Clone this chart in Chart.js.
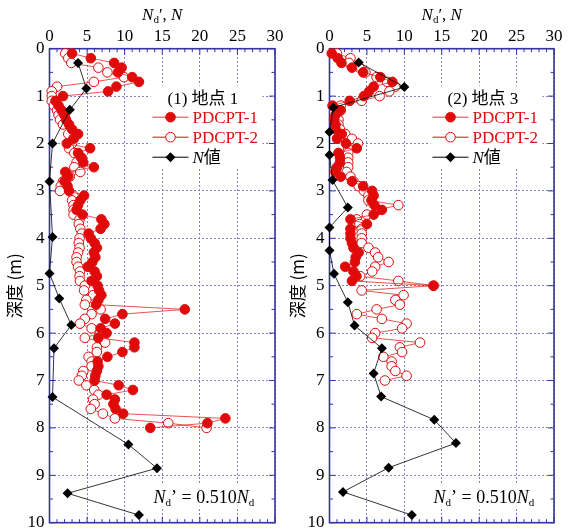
<!DOCTYPE html>
<html>
<head>
<meta charset="utf-8">
<script src="https://cdn.jsdelivr.net/npm/chart.js@4.4.1/dist/chart.umd.min.js"></script>
<style>
  html, body { margin: 0; padding: 0; background: #fff; overflow: hidden; }
  #wrap { position: relative; width: 568px; height: 529px; }
  canvas { position: absolute; top: 0; }
</style>
</head>
<body>
<div id="wrap">
  <canvas id="site1" width="290" height="545" style="left:0"></canvas>
  <canvas id="site3" width="288" height="545" style="left:280px"></canvas>
</div>
<script>
// depth grid of the PDCPT soundings (m)
const pdDepth = [
  0.1, 0.2, 0.3, 0.4, 0.5, 0.6, 0.7, 0.8, 0.9, 1.0,
  1.1, 1.2, 1.3, 1.4, 1.5, 1.6, 1.7, 1.8, 1.9, 2.0,
  2.1, 2.2, 2.3, 2.4, 2.5, 2.6, 2.7, 2.8, 2.9, 3.0,
  3.1, 3.2, 3.3, 3.4, 3.5, 3.6, 3.7, 3.8, 3.9, 4.0,
  4.1, 4.2, 4.3, 4.4, 4.5, 4.6, 4.7, 4.8, 4.9, 5.0,
  5.1, 5.2, 5.3, 5.4, 5.5, 5.6, 5.7, 5.8, 5.9, 6.0,
  6.1, 6.2, 6.3, 6.4, 6.5, 6.6, 6.7, 6.8, 6.9, 7.0,
  7.1, 7.2, 7.3, 7.4, 7.5, 7.6, 7.7, 7.8, 7.9, 8.0
]

// (1) site 1
const site1Pd1 = [
  3.0, 5.5, 8.6, 9.6, 9.1, 11.0, 11.9, 8.9, 7.8, 1.8,
  0.8, 1.2, 1.6, 2.0, 2.2, 2.6, 3.0, 3.8, 3.2, 2.3,
  5.4, 3.8, 4.2, 4.5, 5.9, 2.1, 2.5, 2.0, 2.4, 2.6,
  4.6, 4.1, 3.8, 3.6, 4.4, 6.9, 7.3, 6.8, 5.2, 5.5,
  6.0, 6.3, 5.9, 6.1, 5.7, 5.1, 6.0, 6.3, 5.6, 6.4,
  6.6, 6.9, 6.5, 6.2, 18.0, 9.7, 7.4, 8.7, 6.8, 7.6,
  6.5, 11.3, 11.3, 9.7, 7.7, 6.4, 6.5, 6.3, 6.1, 6.0,
  9.2, 11.1, 7.6, 8.7, 8.5, 8.8, 9.8, 23.4, 21.0, 13.4
]
const site1Pd2 = [
  2.1, 2.5, 2.9, 6.5, 7.7, 9.9, 5.9, 1.0, 0.3, 0.3,
  0.3, 0.6, 1.0, 1.2, 1.4, 1.8, 2.9, 2.5, 3.2, 3.0,
  2.6, 3.3, 4.3, 3.6, 3.3, 4.1, 2.7, 1.8, 1.5, 1.4,
  3.2, 3.0, 3.2, 3.2, 3.2, 4.0, 3.9, 4.1, 4.3, 4.0,
  3.9, 4.0, 3.8, 3.6, 3.6, 3.8, 4.05, 4.0, 4.05, 4.7,
  4.6, 5.8, 4.9, 4.7, 6.8, 5.6, 4.7, 4.05, 5.6, 6.7,
  4.7, 7.4, 6.3, 6.3, 5.2, 5.6, 5.6, 4.5, 4.3, 3.9,
  4.9, 5.95, 6.5, 5.8, 6.0, 5.5, 7.1, 8.7, 15.8, 20.9
]
const site1NDepth = [0.3, 0.84, 1.29, 2.0, 2.8, 3.97, 4.74, 5.27, 5.83, 6.32, 7.35, 8.35, 8.85, 9.38, 9.84]
const site1N = [3.8, 4.9, 2.7, 0.4, 0, 0.4, 0, 1.3, 2.9, 0.6, 0.4, 10.5, 14.3, 2.4, 11.9]

// (2) site 3
const site3Pd1 = [
  0.3, 1.1, 1.6, 3.0, 4.5, 6.8, 8.4, 5.9, 5.3, 4.6,
  2.7, 0.4, 1.5, 0.8, 0.6, 0.8, 0.8, 1.65, 1.0, 2.2,
  3.65, 1.2, 1.4, 1.4, 1.0, 0.8, 1.5, 3.0, 4.5, 5.7,
  5.9, 5.6, 6.0, 7.0, 5.9, 2.8, 5.0, 2.8, 2.8, 2.8,
  3.0, 3.2, 3.9, 3.5, 3.4, 2.1, 3.2, 3.6, 3.0, 13.9
]
const site3Pd2 = [
  1.0, 2.8, 2.6, 4.0, 4.8, 6.3, 7.7, 8.8, 8.0, 6.7,
  4.3, 1.5, 1.0, 1.0, 1.2, 1.2, 1.4, 2.1, 3.0, 3.8,
  2.5, 2.5, 2.5, 2.5, 2.5, 2.3, 2.8, 3.2, 3.9, 4.6,
  5.2, 5.2, 9.2, 6.5, 5.0, 3.65, 4.0, 4.3, 4.3, 4.3,
  4.3, 5.2, 6.1, 6.5, 7.9, 6.1, 5.7, 4.1, 9.2, 13.9,
  4.3, 9.9, 8.8, 9.4, 6.3, 3.65, 7.0, 10.3, 9.7, 6.1,
  5.7, 12.1, 9.4, 9.7, 7.2, 8.3, 8.3, 8.8, 10.3, 7.4
]
const site3NDepth = [0.29, 0.81, 1.24, 1.76, 2.24, 2.77, 3.35, 3.77, 4.26, 4.75, 5.35, 5.84, 6.32, 6.85, 7.34, 7.83, 8.32, 8.84, 9.35, 9.84]
const site3N = [3.9, 10, 0.5, 0, 0, 0.4, 2.45, 0, 0, 0.6, 2.45, 3.35, 7, 5.9, 6.9, 14, 16.9, 7.9, 1.8, 11]

const xTicks = [0, 5, 10, 15, 20, 25, 30]
const yTicks = [0, 1, 2, 3, 4, 5, 6, 7, 8, 9, 10]
const seriesLabels = ['PDCPT-1', 'PDCPT-2', 'N値']

const RED = '#e00a0a'
const FRAME = '#3434a6'
const GRID = '#8080c4'
const SERIF = '"Liberation Serif", "Noto Sans CJK JP", serif'

function pairs(xs, ys) {
  return xs.map((v, i) => ({ x: v, y: ys[i] }))
}

function drawRich(ctx, parts, x, y, size) {
  for (const p of parts) {
    const s = p.sub ? Math.round(size * 0.62) : size
    ctx.font = (p.italic ? 'italic ' : '') + s + 'px ' + SERIF
    ctx.fillText(p.t, x, p.sub ? y + size * 0.2 : y)
    x += ctx.measureText(p.t).width
  }
  return x
}

function richWidth(ctx, parts, size) {
  let w = 0
  for (const p of parts) {
    const s = p.sub ? Math.round(size * 0.62) : size
    ctx.font = (p.italic ? 'italic ' : '') + s + 'px ' + SERIF
    w += ctx.measureText(p.t).width
  }
  return w
}

function dot(ctx, x, y, filled) {
  ctx.beginPath()
  ctx.arc(x, y, 4.8, 0, Math.PI * 2)
  ctx.fillStyle = filled ? RED : '#fff'
  ctx.fill()
  ctx.lineWidth = 1
  ctx.strokeStyle = RED
  ctx.stroke()
}

function diamond(ctx, x, y) {
  ctx.beginPath()
  ctx.moveTo(x, y - 5)
  ctx.lineTo(x + 5, y)
  ctx.lineTo(x, y + 5)
  ctx.lineTo(x - 5, y)
  ctx.closePath()
  ctx.fillStyle = '#000'
  ctx.fill()
}

// frame with inward ticks, drawn under the data
const framePlugin = {
  id: 'frame',
  beforeDatasetsDraw(chart) {
    const { ctx, chartArea: a, scales: { x, y } } = chart
    ctx.save()
    ctx.strokeStyle = FRAME
    ctx.lineWidth = 1
    ctx.beginPath()
    for (let v = 0; v <= 30; v++) {
      const px = x.getPixelForValue(v)
      const len = v % 5 === 0 ? 6 : 3.5
      ctx.moveTo(px, a.top); ctx.lineTo(px, a.top + len)
      ctx.moveTo(px, a.bottom); ctx.lineTo(px, a.bottom - len)
    }
    for (let v = 0; v <= 10; v += 0.5) {
      const py = y.getPixelForValue(v)
      const len = v % 1 === 0 ? 6 : 3.5
      ctx.moveTo(a.left, py); ctx.lineTo(a.left + len, py)
      ctx.moveTo(a.right, py); ctx.lineTo(a.right - len, py)
    }
    ctx.stroke()
    ctx.lineWidth = 1.6
    ctx.strokeRect(a.left, a.top, a.right - a.left, a.bottom - a.top)
    ctx.restore()
  }
}

// legend, axis title and formula note
const decorPlugin = {
  id: 'decor',
  afterDraw(chart, args, opts) {
    const { ctx, chartArea: a } = chart
    const L = a.left, T = a.top
    ctx.save()
    ctx.textBaseline = 'alphabetic'
    ctx.fillStyle = '#000'

    // x axis title on top
    const title = [{ t: 'N', italic: true }, { t: 'd', sub: true }, { t: '\u2032, ' }, { t: 'N', italic: true }]
    const tw = richWidth(ctx, title, 17)
    ctx.fillStyle = '#000'
    drawRich(ctx, title, (a.left + a.right) / 2 - tw / 2, 20, 17)

    // legend
    ctx.fillStyle = '#fff'
    ctx.fillRect(L + 101, T + 37, 112, 82)
    ctx.fillStyle = '#000'
    ctx.font = '17px ' + SERIF
    ctx.fillText(opts.title, L + 118, T + 55)
    const rows = [T + 68.5, T + 88.5, T + 108.5]
    ctx.lineWidth = 0.8
    for (let i = 0; i < 3; i++) {
      ctx.strokeStyle = i < 2 ? RED : '#000'
      ctx.beginPath()
      ctx.moveTo(L + 103, rows[i]); ctx.lineTo(L + 139, rows[i])
      ctx.stroke()
      if (i < 2) dot(ctx, L + 121, rows[i], i === 0)
      else diamond(ctx, L + 121, rows[i])
    }
    ctx.fillStyle = RED
    ctx.font = '17px ' + SERIF
    ctx.fillText(seriesLabels[0], L + 143, rows[0] + 6)
    ctx.fillText(seriesLabels[1], L + 143, rows[1] + 6)
    ctx.fillStyle = '#000'
    drawRich(ctx, [{ t: 'N', italic: true }, { t: '値' }], L + 143, rows[2] + 6, 17)

    // formula note
    ctx.fillStyle = '#fff'
    ctx.fillRect(L + 100, T + 436, 116, 22)
    ctx.fillStyle = '#000'
    drawRich(ctx, [
      { t: 'N', italic: true }, { t: 'd', sub: true }, { t: '\u2019 = 0.510' },
      { t: 'N', italic: true }, { t: 'd', sub: true }
    ], L + 104, T + 454, 18)
    ctx.restore()
  }
}

function makeChart(id, pd1, pd2, nVal, nDepth, title, padRight, yTitlePad) {
  const n2 = pd2.length
  const n1 = pd1.length
  return new Chart(document.getElementById(id), {
    type: 'scatter',
    data: {
      datasets: [
        {
          label: seriesLabels[2],
          data: pairs(nVal, nDepth),
          showLine: true,
          borderColor: '#000',
          borderWidth: 0.8,
          pointStyle: 'rectRot',
          pointRadius: 5,
          pointBackgroundColor: '#000',
          pointBorderColor: '#000',
          pointBorderWidth: 0,
          clip: false
        },
        {
          label: seriesLabels[0],
          data: pairs(pd1, pdDepth.slice(0, n1)),
          showLine: true,
          borderColor: RED,
          borderWidth: 0.7,
          pointRadius: 4.8,
          pointBackgroundColor: RED,
          pointBorderColor: RED,
          pointBorderWidth: 1,
          clip: false
        },
        {
          label: seriesLabels[1],
          data: pairs(pd2, pdDepth.slice(0, n2)),
          showLine: true,
          borderColor: RED,
          borderWidth: 0.7,
          pointRadius: 4.8,
          pointBackgroundColor: '#fff',
          pointBorderColor: RED,
          pointBorderWidth: 1,
          clip: false
        }
      ]
    },
    options: {
      responsive: false,
      animation: false,
      events: [],
      layout: { padding: { left: 0, right: padRight, top: 0, bottom: 22.3 } },
      plugins: {
        legend: { display: false },
        tooltip: { enabled: false },
        decor: { title }
      },
      scales: {
        x: {
          type: 'linear',
          position: 'top',
          min: 0,
          max: 30,
          afterBuildTicks: s => { s.ticks = xTicks.map(v => ({ value: v })) },
          afterFit: s => { s.height = 48.7 },
          ticks: { color: '#000', font: { family: SERIF, size: 17 }, padding: 2, maxRotation: 0 },
          grid: { color: GRID, lineWidth: 1, drawTicks: false },
          border: { display: false, dash: [2, 2] }
        },
        y: {
          type: 'linear',
          reverse: true,
          min: 0,
          max: 10,
          afterBuildTicks: s => { s.ticks = yTicks.map(v => ({ value: v })) },
          afterFit: s => { s.width = 49.5 },
          ticks: { color: '#000', font: { family: SERIF, size: 17 }, padding: 5 },
          grid: { color: GRID, lineWidth: 1, drawTicks: false },
          border: { display: false, dash: [2, 2] },
          title: {
            display: true,
            text: '深度 (m)',
            color: '#000',
            font: { family: '"Noto Sans CJK JP", sans-serif', size: 17 },
            padding: { top: yTitlePad, bottom: 0 }
          }
        }
      }
    },
    plugins: [framePlugin, decorPlugin]
  })
}

makeChart('site1', site1Pd1, site1Pd2, site1N, site1NDepth, '(1) 地点 1', 15, 4)
makeChart('site3', site3Pd1, site3Pd2, site3N, site3NDepth, '(2) 地点 3', 14, 7)
</script>
</body>
</html>
